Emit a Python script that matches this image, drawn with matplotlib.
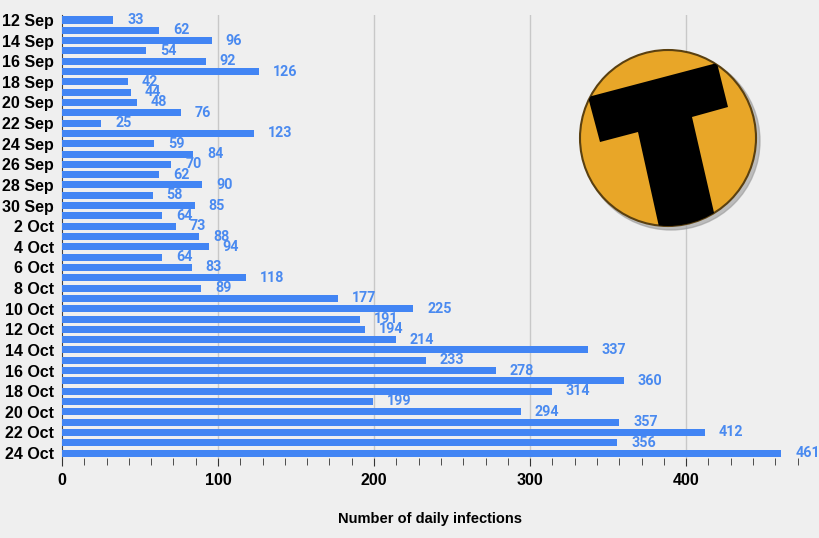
import numpy as np
import matplotlib
matplotlib.use("Agg")
from matplotlib import pyplot as plt
from matplotlib.patches import Circle, Polygon
from matplotlib.ticker import MultipleLocator

# 12 Sep .. 24 Oct daily infections
days = [f"{d} Sep" for d in range(12, 31)] + [f"{d} Oct" for d in range(1, 25)]
cases = [33, 62, 96, 54, 92, 126, 42, 44, 48, 76, 25, 123, 59, 84, 70, 62, 90, 58, 85,
         64, 73, 88, 94, 64, 83, 118, 89, 177, 225, 191, 194, 214, 337, 233, 278, 360,
         314, 199, 294, 357, 412, 356, 461]
xticks = [0, 100, 200, 300, 400]

bg = '#efefef'
blue = '#4285f4'
W, H = 820, 538

fig = plt.figure(figsize=(W / 100, H / 100), dpi=100, facecolor=bg)
ax = fig.add_axes([62 / W, 1 - 458.2 / H, (797.6 - 62) / W, (458.2 - 14.85) / H])
ax.set_facecolor(bg)

y = np.arange(len(days))
ax.barh(y, cases, height=0.68, color=blue, zorder=3)
for yi, v in zip(y, cases):
    ax.text(v + 9, yi, str(v), va='center', ha='left', color='#4a8af0',
            fontsize=10.3, fontweight='bold', family='Roboto', zorder=4)

ax.set_ylim(len(days) - 0.5, -0.5)
ax.set_xlim(0, 400 + 5 * 100 / 7)
ax.set_yticks(y[::2])
ax.set_yticklabels(days[::2], fontsize=11.5, fontweight='bold', family='Liberation Sans')
ax.tick_params(axis='y', length=0, pad=6)

ax.set_xticks(xticks)
ax.set_xticklabels([str(t) for t in xticks], fontsize=11.5, fontweight='bold',
                   family='Liberation Sans')
ax.xaxis.set_minor_locator(MultipleLocator(100 / 7))
ax.tick_params(axis='x', which='major', length=6, color='#333333', pad=5)
ax.tick_params(axis='x', which='minor', length=5, color='#333333')

for t in xticks[1:]:
    ax.axvline(t, color='#c8c8c8', lw=1, zorder=1)

for s in ['top', 'right', 'bottom']:
    ax.spines[s].set_visible(False)
ax.spines['left'].set_color('#444444')

ax.set_xlabel('Number of daily infections', fontsize=10.5, fontweight='bold',
              family='Liberation Sans', labelpad=17)

# logo
lax = fig.add_axes([0, 0, 1, 1], facecolor='none')
lax.set_xlim(0, W)
lax.set_ylim(H, 0)
lax.axis('off')
shadow = Circle((671, 141), 89, color='#9a9a9a', alpha=0.6, zorder=1)
lax.add_patch(shadow)
circ = Circle((668, 138), 88, facecolor='#e8a628', edgecolor='#5a4010', lw=1.5, zorder=2)
lax.add_patch(circ)
tshape = Polygon([(588, 97), (717, 63), (728, 107), (692, 117), (718, 230),
                  (663, 245), (638, 132), (600, 142)],
                 closed=True, facecolor='black', zorder=3)
lax.add_patch(tshape)
tshape.set_clip_path(circ)

fig.savefig('out.png', dpi=100, facecolor=bg)
